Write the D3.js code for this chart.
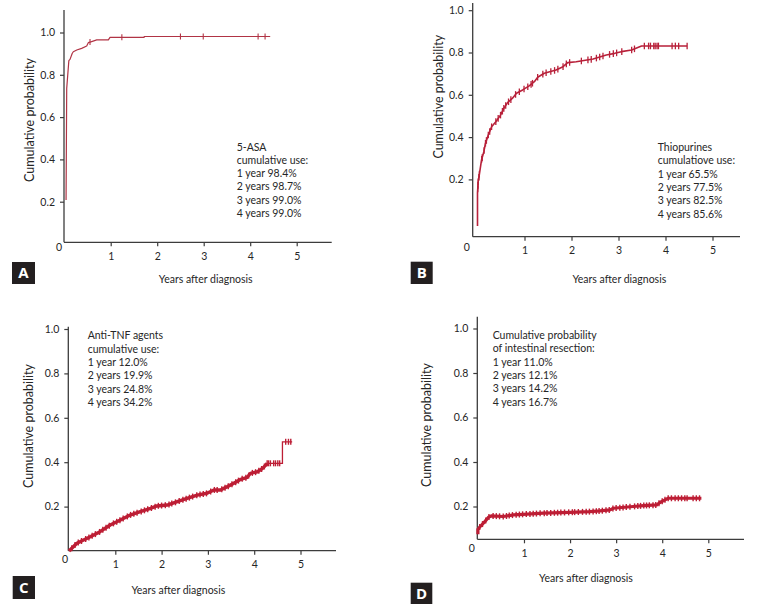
<!DOCTYPE html>
<html>
<head>
<meta charset="utf-8">
<script src="https://cdn.jsdelivr.net/npm/d3@7/dist/d3.min.js"></script>
<style>
  html, body { margin: 0; padding: 0; background: #fff; }
  svg { display: block; font-family: Lato, "Open Sans", sans-serif; }
</style>
</head>
<body>
<svg id="chart" width="773" height="611"></svg>
<script>
// ---------- tick labels ----------
const xTickValues = [1, 2, 3, 4, 5];
const yTickValues = [0.2, 0.4, 0.6, 0.8, 1.0];
const yTickLabels = ["0.2", "0.4", "0.6", "0.8", "1.0"];
const panelLetters = ["A", "B", "C", "D"];
const xTitle = "Years after diagnosis";
const yTitle = "Cumulative probability";

// ---------- Panel A: 5-ASA ----------
const aTime = [0.04, 0.04, 0.054, 0.10, 0.125, 0.174, 0.196, 0.27, 0.376, 0.484, 0.518, 0.59, 0.70, 0.95, 0.985, 1.72, 1.72, 4.43];
const aProb = [0.208, 0.208, 0.736, 0.867, 0.873, 0.902, 0.909, 0.917, 0.925, 0.936, 0.952, 0.957, 0.965, 0.965, 0.977, 0.977, 0.981, 0.981];
const aCensor = [0.555, 1.24, 2.50, 2.99, 4.17, 4.32];
const aNote = ["5-ASA", "cumulative use:", "1 year 98.4%", "2 years 98.7%", "3 years 99.0%", "4 years 99.0%"];

// ---------- Panel B: Thiopurines ----------
const bTime = [0, 0, 0, 0, 0.015, 0.043, 0.086, 0.135, 0.17, 0.23, 0.30, 0.39, 0.49, 0.56, 0.64, 0.74, 0.83, 0.96, 1.10, 1.21, 1.28, 1.42, 1.67, 1.82, 1.92, 2.10, 2.46, 2.74, 2.92, 3.06, 3.28, 3.49, 4.46];
const bProb = [-0.02, 0.016, 0.071, 0.137, 0.189, 0.229, 0.292, 0.331, 0.371, 0.41, 0.449, 0.473, 0.504, 0.536, 0.563, 0.583, 0.607, 0.623, 0.642, 0.662, 0.683, 0.702, 0.717, 0.733, 0.752, 0.756, 0.769, 0.788, 0.796, 0.804, 0.812, 0.831, 0.831];
const bCensor = [0.005, 0.01, 0.015, 0.03, 0.04, 0.09, 0.10, 0.14, 0.17, 0.19, 0.23, 0.26, 0.30, 0.39, 0.44, 0.49, 0.53, 0.56, 0.60, 0.66, 0.71, 0.81, 0.89, 0.99, 1.07, 1.14, 1.17, 1.28, 1.39, 1.46, 1.56, 1.64, 1.71, 1.82, 1.89, 1.96, 2.21, 2.35, 2.42, 2.53, 2.60, 2.67, 2.81, 2.89, 2.96, 3.07, 3.28, 3.34, 3.55, 3.64, 3.68, 3.75, 3.78, 3.82, 3.85, 4.14, 4.21, 4.28, 4.46];
const bNote = ["Thiopurines", "cumulatiove use:", "1 year 65.5%", "2 years 77.5%", "3 years 82.5%", "4 years 85.6%"];

// ---------- Panel C: Anti-TNF ----------
const cTime = [0, 0.17, 0.46, 0.67, 0.89, 1.11, 1.32, 1.54, 1.76, 1.90, 2.12, 2.34, 2.55, 2.77, 2.98, 3.13, 3.27, 3.42, 3.56, 3.71, 3.85, 3.92, 4.07, 4.18, 4.25, 4.28, 4.61, 4.61, 4.82];
const cProb = [0.0, 0.035, 0.064, 0.087, 0.117, 0.14, 0.162, 0.177, 0.192, 0.203, 0.207, 0.222, 0.237, 0.252, 0.26, 0.275, 0.275, 0.29, 0.305, 0.323, 0.332, 0.35, 0.357, 0.372, 0.387, 0.395, 0.395, 0.492, 0.492];
const cCensor = [0.06, 0.13, 0.2, 0.27, 0.36, 0.43, 0.5, 0.57, 0.66, 0.73, 0.8, 0.87, 0.96, 1.03, 1.1, 1.17, 1.26, 1.33, 1.4, 1.47, 1.56, 1.63, 1.7, 1.78, 1.86, 1.93, 2.0, 2.08, 2.16, 2.22, 2.3, 2.38, 2.46, 2.53, 2.6, 2.67, 2.76, 2.83, 2.9, 2.97, 3.06, 3.14, 3.2, 3.3, 3.37, 3.44, 3.52, 3.6, 3.66, 3.74, 3.82, 3.88, 3.96, 4.03, 4.1, 4.16, 4.22, 4.28, 4.31, 4.35, 4.42, 4.46, 4.51, 4.55, 4.68, 4.74, 4.79];
const cNote = ["Anti-TNF agents", "cumulative use:", "1 year 12.0%", "2 years 19.9%", "3 years 24.8%", "4 years 34.2%"];

// ---------- Panel D: Intestinal resection ----------
const dTime = [0, 0, 0.05, 0.15, 0.23, 0.30, 0.55, 0.77, 0.98, 1.42, 2.0, 2.43, 2.65, 2.87, 2.94, 3.37, 3.59, 3.88, 3.95, 4.06, 4.13, 4.85];
const dProb = [0.075, 0.098, 0.11, 0.132, 0.152, 0.158, 0.155, 0.162, 0.165, 0.17, 0.174, 0.177, 0.18, 0.185, 0.192, 0.2, 0.204, 0.207, 0.218, 0.23, 0.237, 0.237];
const dCensor = [0.04, 0.1, 0.17, 0.24, 0.33, 0.4, 0.47, 0.55, 0.62, 0.68, 0.75, 0.83, 0.9, 0.97, 1.05, 1.13, 1.2, 1.27, 1.35, 1.44, 1.5, 1.58, 1.66, 1.73, 1.8, 1.88, 1.97, 2.05, 2.1, 2.18, 2.27, 2.35, 2.42, 2.5, 2.57, 2.63, 2.7, 2.78, 2.85, 2.93, 3.0, 3.08, 3.15, 3.22, 3.3, 3.4, 3.47, 3.53, 3.6, 3.66, 3.72, 3.8, 3.86, 3.93, 4.0, 4.06, 4.13, 4.2, 4.28, 4.35, 4.42, 4.49, 4.54, 4.67, 4.74, 4.81];
const dNote = ["Cumulative probability", "of intestinal resection:", "1 year 11.0%", "2 years 12.1%", "3 years 14.2%", "4 years 16.7%"];

// ---------- layout (positions and styles only) ----------
const panels = [
  { time: aTime, prob: aProb, censor: aCensor, note: aNote, letter: panelLetters[0],
    x0: 64.2, x5: 296.7, yAxisX: 64, xEnd: 331.7, y0: 244, y1: 32.5, axisTop: 10, xAxisY: 242.3,
    zeroLbl: [59, 247], noteX: 236.7, noteY: 150.5, xTitleXY: [205.7, 279.3], yTitleXY: [30, 120],
    box: [12, 262, 23, 22], color: "#b13445", lw: 1.2, thinFrom: 99, censorW: 1.1, censorH: 3 },
  { time: bTime, prob: bProb, censor: bCensor, note: bNote, letter: panelLetters[1],
    x0: 477.5, x5: 712.5, yAxisX: 472.7, xEnd: 740, y0: 221.7, y1: 10.2, axisTop: 3, xAxisY: 236.7,
    zeroLbl: [466.7, 247], noteX: 657.7, noteY: 151, xTitleXY: [619.3, 279.3], yTitleXY: [438.3, 96.7],
    box: [410.7, 261.7, 22, 22.3], color: "#b8213a", lw: 1.6, thinFrom: 99, censorW: 1.3, censorH: 3.3 },
  { time: cTime, prob: cProb, censor: cCensor, note: cNote, letter: panelLetters[2],
    x0: 69, x5: 300.5, yAxisX: 68.3, xEnd: 336, y0: 551, y1: 329, axisTop: 326.7, xAxisY: 550.7,
    zeroLbl: [65, 559], noteX: 87.7, noteY: 339.3, xTitleXY: [178.3, 590.7], yTitleXY: [29, 426],
    box: [12.7, 576, 22.3, 23], color: "#bd1e35", lw: 3.4, thinFrom: 4.28, censorW: 1.4, censorH: 3 },
  { time: dTime, prob: dProb, censor: dCensor, note: dNote, letter: panelLetters[3],
    x0: 477.9, x5: 708.3, yAxisX: 477.3, xEnd: 744, y0: 551, y1: 328.5, axisTop: 316.7, xAxisY: 539.3,
    zeroLbl: [471.7, 548.3], noteX: 492.7, noteY: 339, xTitleXY: [586, 578.3], yTitleXY: [426.7, 425],
    box: [410.7, 582.7, 21.6, 21.3], color: "#bd1e35", lw: 3.2, thinFrom: 99, censorW: 1.4, censorH: 3 }
];

const svg = d3.select("#chart");
const axisColor = "#3c3c3c";
const textColor = "#262626";

function valueAt(times, probs, t) {
  const i = d3.bisectRight(times, t) - 1;
  if (i < 0) return probs[0];
  if (i >= times.length - 1) return probs[probs.length - 1];
  const t0 = times[i], t1 = times[i + 1];
  if (t1 === t0) return probs[i + 1];
  const f = (t - t0) / (t1 - t0);
  return probs[i] + f * (probs[i + 1] - probs[i]);
}

panels.forEach(p => {
  const g = svg.append("g");
  const x = d3.scaleLinear().domain([0, 5]).range([p.x0, p.x5]);
  const y = d3.scaleLinear().domain([0, 1]).range([p.y0, p.y1]);

  // x axis
  const xAxis = d3.axisBottom(x).tickValues(xTickValues).tickFormat(d3.format("d")).tickSizeOuter(0).tickSize(4).tickPadding(6);
  const xg = g.append("g").attr("transform", `translate(0,${p.xAxisY})`).call(xAxis);
  xg.select(".domain").remove();
  xg.append("line").attr("x1", p.yAxisX).attr("x2", p.xEnd).attr("y1", 0).attr("y2", 0)
    .attr("stroke", axisColor).attr("stroke-width", 1.3);
  xg.selectAll(".tick line").attr("stroke", axisColor).attr("stroke-width", 1.2);
  xg.selectAll(".tick text").attr("fill", textColor).attr("font-size", 10.5).attr("font-family", "Lato, sans-serif");

  // y axis
  const yAxis = d3.axisLeft(y).tickValues(yTickValues).tickFormat((d, i) => yTickLabels[i]).tickSizeOuter(0).tickSize(4).tickPadding(5);
  const yg = g.append("g").attr("transform", `translate(${p.yAxisX},0)`).call(yAxis);
  yg.select(".domain").remove();
  yg.append("line").attr("x1", 0).attr("x2", 0).attr("y1", p.axisTop).attr("y2", p.xAxisY)
    .attr("stroke", axisColor).attr("stroke-width", 1.3);
  yg.selectAll(".tick line").attr("stroke", axisColor).attr("stroke-width", 1.2);
  yg.selectAll(".tick text").attr("fill", textColor).attr("font-size", 10.5).attr("font-family", "Lato, sans-serif");

  // zero label
  g.append("text").attr("x", p.zeroLbl[0]).attr("y", p.zeroLbl[1]).attr("dy", "0.35em")
    .attr("text-anchor", "middle").attr("font-size", 10.5).attr("fill", textColor).text("0");

  // curve: dense (thick) part and sparse (thin) tail
  const pts = p.time.map((t, i) => [t, p.prob[i]]);
  const line = d3.line().x(d => x(d[0])).y(d => y(d[1])).curve(d3.curveLinear);
  const dense = pts.filter(d => d[0] <= p.thinFrom);
  const tail = pts.filter(d => d[0] >= p.thinFrom);
  g.append("path").attr("d", line(dense)).attr("fill", "none")
    .attr("stroke", p.color).attr("stroke-width", p.lw).attr("stroke-linejoin", "round");
  if (tail.length > 1) {
    g.append("path").attr("d", line(tail)).attr("fill", "none")
      .attr("stroke", p.color).attr("stroke-width", 1.3);
  }

  // censor marks
  g.selectAll(".cens").data(p.censor).enter().append("line")
    .attr("x1", d => x(d)).attr("x2", d => x(d))
    .attr("y1", d => y(valueAt(p.time, p.prob, d)) - p.censorH)
    .attr("y2", d => y(valueAt(p.time, p.prob, d)) + p.censorH)
    .attr("stroke", p.color).attr("stroke-width", p.censorW);

  // annotation
  const note = g.append("text").attr("font-size", 10.5).attr("fill", textColor);
  p.note.forEach((s, i) => {
    note.append("tspan").attr("x", p.noteX).attr("y", p.noteY + i * 13.3).text(s);
  });

  // axis titles
  g.append("text").attr("x", p.xTitleXY[0]).attr("y", p.xTitleXY[1]).attr("dy", "0.35em")
    .attr("text-anchor", "middle").attr("font-size", 10.5).attr("fill", textColor).text(xTitle);
  g.append("text").attr("transform", `translate(${p.yTitleXY[0]},${p.yTitleXY[1]}) rotate(-90)`)
    .attr("dy", "0.35em").attr("text-anchor", "middle").attr("font-size", 12.5).attr("fill", textColor).text(yTitle);

  // panel letter box
  g.append("rect").attr("x", p.box[0]).attr("y", p.box[1]).attr("width", p.box[2]).attr("height", p.box[3]).attr("fill", "#231f20");
  g.append("text").attr("x", p.box[0] + p.box[2] / 2).attr("y", p.box[1] + p.box[3] / 2).attr("dy", "0.36em")
    .attr("text-anchor", "middle").attr("font-size", 15).attr("font-weight", "bold").attr("fill", "#fff")
    .attr("font-family", "'Open Sans', sans-serif").text(p.letter);
});
</script>
</body>
</html>
